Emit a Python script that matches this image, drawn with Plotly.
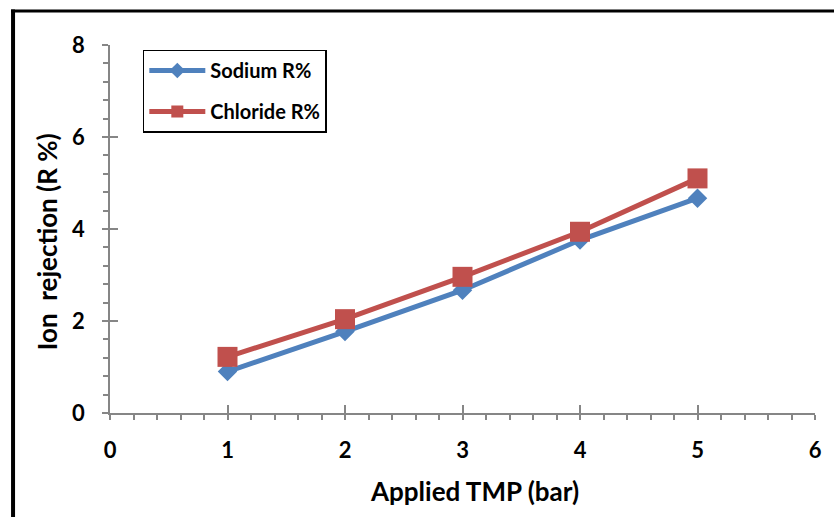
import plotly.graph_objects as go

# Applied transmembrane pressure (bar) and ion rejection (%)
tmp_bar = [1, 2, 3, 4, 5]
sodium_r = [0.90, 1.77, 2.67, 3.76, 4.67]
chloride_r = [1.22, 2.04, 2.96, 3.94, 5.10]

x_ticks = [0, 1, 2, 3, 4, 5, 6]
y_ticks = [0, 2, 4, 6, 8]

FONT = "Lato, Carlito, Calibri, 'Open Sans', sans-serif"
AXIS_GREY = "#868686"

W, H = 834, 517
L, R, T, B = 110, 15, 45, 104
PW, PH = W - L - R, H - T - B


def px_x(p):
    return (p - L) / PW


def px_y(p):
    return (H - B - p) / PH


fig = go.Figure()
fig.add_trace(go.Scatter(
    x=tmp_bar, y=sodium_r, name="Sodium R%", mode="lines+markers",
    line=dict(color="#4F81BD", width=5),
    marker=dict(symbol="diamond", size=15, color="#4F81BD"),
    legendgroup="a",
))
fig.add_trace(go.Scatter(
    x=tmp_bar, y=chloride_r, name="Chloride R%", mode="lines+markers",
    line=dict(color="#C0504D", width=5),
    marker=dict(symbol="square", size=20, color="#C0504D"),
    legendgroup="b",
))
# carrier trace for the overlay axes that draw the inner half of the major ticks
fig.add_trace(go.Scatter(
    x=tmp_bar, y=sodium_r, xaxis="x2", yaxis="y2", mode="lines",
    line=dict(width=0), hoverinfo="skip", showlegend=False,
))

tick_font = dict(family=FONT, size=22, color="black", weight="bold")
minor_common = dict(ticks="outside", ticklen=5, tickcolor=AXIS_GREY, tickwidth=1.5)

fig.update_layout(
    xaxis=dict(
        range=[0, 6], tickvals=x_ticks, ticks="outside", ticklen=5,
        tickcolor=AXIS_GREY, tickwidth=1.5, tickfont=tick_font,
        showgrid=False, zeroline=False, showline=True,
        linecolor=AXIS_GREY, linewidth=1.5,
        minor=dict(dtick=0.2, **minor_common),
        ticklabelstandoff=12,
    ),
    yaxis=dict(
        range=[0, 8], tickvals=y_ticks, ticks="outside", ticklen=6,
        tickcolor=AXIS_GREY, tickwidth=1.5, tickfont=tick_font,
        showgrid=False, zeroline=False, showline=True,
        linecolor=AXIS_GREY, linewidth=1.5,
        minor=dict(dtick=0.4, **minor_common),
        ticklabelstandoff=13,
    ),
    xaxis2=dict(
        overlaying="x", side="bottom", range=[0, 6], tickvals=x_ticks,
        ticks="inside", ticklen=8, tickcolor=AXIS_GREY, tickwidth=1.5,
        showticklabels=False, showgrid=False, zeroline=False, showline=False,
    ),
    yaxis2=dict(
        overlaying="y", side="left", range=[0, 8], tickvals=y_ticks,
        ticks="inside", ticklen=8, tickcolor=AXIS_GREY, tickwidth=1.5,
        showticklabels=False, showgrid=False, zeroline=False, showline=False,
    ),
)

title_font = dict(family=FONT, size=26, color="black", weight="bold")

# Axis titles
fig.add_annotation(
    text="Applied TMP (bar)", xref="paper", yref="paper",
    x=px_x(477), y=px_y(491), showarrow=False, font=title_font,
    xanchor="center", yanchor="middle",
)
fig.add_annotation(
    text="Ion\u00a0 rejection (R %)", xref="paper", yref="paper",
    x=px_x(47), y=px_y(242), showarrow=False, textangle=-90, font=title_font,
    xanchor="center", yanchor="middle",
)

# Outer frame (left and top edges)
fig.add_shape(type="line", xref="paper", yref="paper",
              x0=px_x(12.5), x1=px_x(12.5), y0=px_y(9.5), y1=px_y(H + 5),
              line=dict(color="black", width=4))
fig.add_shape(type="line", xref="paper", yref="paper",
              x0=px_x(10.5), x1=px_x(W + 5), y0=px_y(11), y1=px_y(11),
              line=dict(color="black", width=3))

fig.update_layout(
    width=W, height=H,
    margin=dict(l=L, r=R, t=T, b=B),
    paper_bgcolor="white", plot_bgcolor="white",
    showlegend=True,
    legend=dict(
        x=px_x(143), y=px_y(49.5), xanchor="left", yanchor="top",
        bordercolor="black", borderwidth=1.5, bgcolor="white",
        font=dict(family=FONT, size=20, color="black", weight="bold"),
        tracegroupgap=12, traceorder="grouped", itemsizing="constant",
        itemwidth=56,
    ),
)

fig.write_html("out.html")
